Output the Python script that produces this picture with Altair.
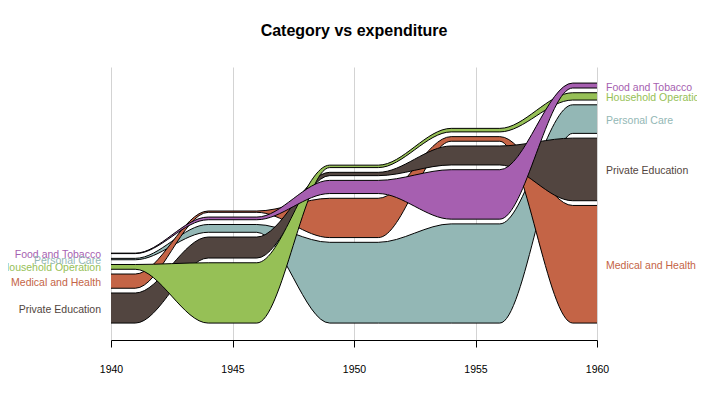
import altair as alt
import pandas as pd

years = [1940, 1945, 1950, 1955, 1960]
categories = ["Food and Tobacco", "Household Operation", "Medical and Health",
              "Personal Care", "Private Education"]
food = [0.341, 1.98, 9.71, 36.5, 3.64]
household = [3.53, 44.5, 1.8, 2.6, 5.4]
medical = [10.5, 0.974, 29.0, 3.4, 86.8]
personal = [1.04, 5.76, 59.6, 73.2, 21.1]
private = [22.2, 15.5, 2.45, 14.0, 46.2]
colors = ["#A65FB0", "#96C056", "#C46446", "#93B7B5", "#524540"]
draw_order = ["Personal Care", "Medical and Health", "Private Education",
              "Household Operation", "Food and Tobacco"]

series = dict(zip(categories, [food, household, medical, personal, private]))
df = pd.DataFrame([{"category": c, "year": y, "value": v}
                   for c, vals in series.items() for y, v in zip(years, vals)])

GAP = 3.5
HOLD = 1
FONT = "Liberation Sans, Arial, sans-serif"

color = alt.Color("category:N", scale=alt.Scale(domain=categories, range=colors), legend=None)
yscale = alt.Scale(domain=[-12.5, 189], nice=False, zero=False)
xscale = alt.Scale(domain=[1940, 1960], nice=False, zero=False)
xaxis = alt.Axis(values=years, format="d", title=None, grid=True, gridColor="#d3d3d3",
                 gridWidth=1, domainColor="black", tickColor="black", tickSize=7,
                 labelFontSize=10.5, labelColor="black", labelFont=FONT, labelPadding=17,
                 labelFlush=False)

stacked = alt.Chart(df).transform_window(
    cum="sum(value)", rk="rank()", groupby=["year"],
    sort=[alt.SortField("value", order="descending")]
).transform_calculate(
    lo=f"datum.cum - datum.value + {GAP}*(datum.rk-1)",
    hi=f"datum.cum + {GAP}*(datum.rk-1)",
).transform_calculate(
    mid="(datum.lo + datum.hi)/2"
)

flat = stacked.transform_calculate(
    xs=f"[max(datum.year - {HOLD}, 1940), min(datum.year + {HOLD}, 1960)]"
).transform_flatten(["xs"])

X = alt.X("xs:Q", scale=xscale, axis=xaxis)
layers = []
for c in draw_order:
    sub = flat.transform_filter(alt.datum.category == c)
    layers.append(sub.mark_area(interpolate="monotone").encode(
        x=X, y=alt.Y("lo:Q", scale=yscale, axis=None), y2="hi:Q", color=color))
    layers.append(sub.mark_line(interpolate="monotone", color="black", strokeWidth=1).encode(
        x=X, y=alt.Y("hi:Q", scale=yscale, axis=None)))
    layers.append(sub.mark_line(interpolate="monotone", color="black", strokeWidth=1).encode(
        x=X, y=alt.Y("lo:Q", scale=yscale, axis=None)))

left = stacked.transform_filter(alt.datum.year == 1940).mark_text(
    align="right", baseline="middle", dx=-10, dy=1.5, fontSize=10.5, font=FONT
).encode(x=alt.X("year:Q", scale=xscale, axis=xaxis),
         y=alt.Y("mid:Q", scale=yscale, axis=None), text="category:N", color=color)
right = stacked.transform_filter(alt.datum.year == 1960).mark_text(
    align="left", baseline="middle", dx=9, dy=2, fontSize=10.5, font=FONT
).encode(x=alt.X("year:Q", scale=xscale, axis=xaxis),
         y=alt.Y("mid:Q", scale=yscale, axis=None), text="category:N", color=color)

chart = alt.layer(*layers, left, right).properties(
    width=486, height=273,
    title=alt.TitleParams("Category vs expenditure", fontSize=16, fontWeight="bold",
                          font=FONT, color="black", anchor="middle", offset=15,
                          baseline="alphabetic"),
    padding={"left": 103, "top": 59, "right": 100, "bottom": 40},
    autosize=alt.AutoSizeParams(type="none"),
).configure_view(stroke=None)

chart.save("out.html", embed_options={"renderer": "svg", "actions": False})
